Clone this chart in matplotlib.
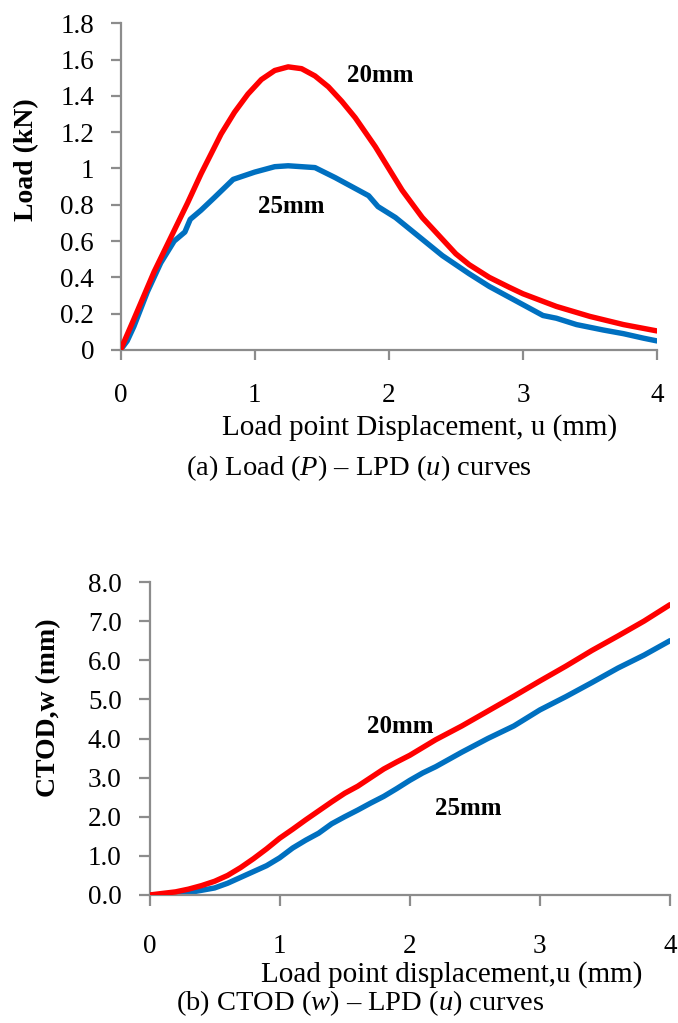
import matplotlib
matplotlib.use("Agg")
import matplotlib.pyplot as plt

# (a) Load - LPD curves
lpd_20_a = [0, 0.1, 0.25, 0.5, 0.6, 0.75, 0.85, 0.95, 1.05, 1.15, 1.25, 1.35, 1.45, 1.55,
            1.65, 1.75, 1.9, 2.0, 2.1, 2.25, 2.4, 2.5, 2.6, 2.75, 2.9, 3.0, 3.25, 3.5,
            3.75, 4.0]
load_20 = [0, 0.17, 0.43, 0.81, 0.97, 1.19, 1.31, 1.41, 1.49, 1.54, 1.56, 1.55, 1.51, 1.45,
           1.37, 1.28, 1.12, 1.0, 0.88, 0.73, 0.61, 0.53, 0.47, 0.40, 0.345, 0.31, 0.24,
           0.185, 0.14, 0.105]

lpd_25_a = [0, 0.05, 0.1, 0.2, 0.3, 0.4, 0.48, 0.52, 0.6, 0.7, 0.84, 1.0, 1.15, 1.25,
            1.45, 1.6, 1.75, 1.85, 1.92, 2.05, 2.25, 2.4, 2.5, 2.6, 2.75, 2.85, 3.0,
            3.15, 3.25, 3.4, 3.6, 3.75, 3.9, 4.0]
load_25 = [0, 0.05, 0.13, 0.32, 0.48, 0.6, 0.65, 0.72, 0.77, 0.84, 0.94, 0.98, 1.01, 1.015,
           1.005, 0.95, 0.89, 0.85, 0.79, 0.73, 0.61, 0.52, 0.47, 0.42, 0.35, 0.31, 0.25,
           0.19, 0.175, 0.14, 0.11, 0.09, 0.065, 0.05]

# (b) CTOD - LPD curves
lpd_20_b = [0, 0.1, 0.2, 0.3, 0.4, 0.5, 0.6, 0.7, 0.8, 0.9, 1.0, 1.1, 1.2, 1.3, 1.4, 1.5,
            1.6, 1.7, 1.8, 1.9, 2.0, 2.2, 2.4, 2.6, 2.8, 3.0, 3.2, 3.4, 3.6, 3.8, 4.0]
ctod_20 = [0, 0.04, 0.08, 0.15, 0.24, 0.35, 0.5, 0.7, 0.93, 1.18, 1.45, 1.68, 1.92, 2.15,
           2.38, 2.6, 2.78, 3.0, 3.22, 3.4, 3.57, 3.97, 4.32, 4.7, 5.08, 5.47, 5.85, 6.25,
           6.62, 7.0, 7.42]

lpd_25_b = [0, 0.1, 0.2, 0.3, 0.4, 0.5, 0.6, 0.7, 0.8, 0.9, 1.0, 1.1, 1.2, 1.3, 1.4, 1.5,
            1.6, 1.7, 1.8, 1.9, 2.0, 2.1, 2.2, 2.4, 2.6, 2.8, 3.0, 3.2, 3.4, 3.6, 3.8, 4.0]
ctod_25 = [0, 0.01, 0.03, 0.06, 0.12, 0.18, 0.3, 0.45, 0.6, 0.75, 0.95, 1.2, 1.4, 1.58,
           1.82, 2.0, 2.17, 2.35, 2.52, 2.72, 2.93, 3.12, 3.28, 3.65, 4.0, 4.32, 4.73, 5.07,
           5.43, 5.8, 6.13, 6.5]

x_ticks = [0, 1, 2, 3, 4]
load_ticks = [0, 0.2, 0.4, 0.6, 0.8, 1.0, 1.2, 1.4, 1.6, 1.8]
load_tick_labels = ["0", "0.2", "0.4", "0.6", "0.8", "1", "1.2", "1.4", "1.6", "1.8"]
ctod_ticks = [0, 1, 2, 3, 4, 5, 6, 7, 8]
ctod_tick_labels = ["0.0", "1.0", "2.0", "3.0", "4.0", "5.0", "6.0", "7.0", "8.0"]

RED = "#ff0000"
BLUE = "#0070c0"
SPINE = "#8c8c8c"

plt.rcParams["font.family"] = ["Liberation Serif", "DejaVu Serif"]
plt.rcParams["mathtext.fontset"] = "custom"
plt.rcParams["mathtext.it"] = "Liberation Serif:italic"
plt.rcParams["mathtext.rm"] = "Liberation Serif"

W, H = 678, 1023
fig = plt.figure(figsize=(W / 100, H / 100), dpi=100)


def px_axes(left, top, right, bottom):
    return fig.add_axes([left / W, 1 - bottom / H, (right - left) / W, (bottom - top) / H])


def style_axes(ax, xpad, ypad, ticklen):
    for side in ("top", "right"):
        ax.spines[side].set_visible(False)
    for side in ("left", "bottom"):
        ax.spines[side].set_color(SPINE)
        ax.spines[side].set_linewidth(1.6)
    ax.tick_params(axis="both", direction="out", length=ticklen, width=1.6,
                   color=SPINE, labelsize=19.5, labelcolor="black")
    ax.tick_params(axis="x", pad=xpad)
    ax.tick_params(axis="y", pad=ypad)


# ---- panel (a)
ax1 = px_axes(120.5, 23.3, 657, 350)
ax1.plot(lpd_20_a, load_20, color=RED, lw=3.9, solid_capstyle="round",
         solid_joinstyle="round", zorder=3)
ax1.plot(lpd_25_a, load_25, color=BLUE, lw=3.9, solid_capstyle="round",
         solid_joinstyle="round", zorder=2)
ax1.set_xlim(0, 4)
ax1.set_ylim(0, 1.8)
ax1.set_xticks(x_ticks)
ax1.set_yticks(load_ticks)
ax1.set_yticklabels(load_tick_labels)
style_axes(ax1, xpad=17, ypad=12, ticklen=7)
ax1.text(1.94, 1.515, "20mm", fontsize=18, fontweight="bold", ha="center", va="center")
ax1.text(1.27, 0.79, "25mm", fontsize=18, fontweight="bold", ha="center", va="center")

fig.text(27 / W, 1 - 160 / H, "Load (kN)", rotation=90, fontsize=20, fontweight="bold",
         ha="center", va="center")
fig.text(419.5 / W, 1 - 435 / H, "Load point Displacement, u (mm)", fontsize=21,
         ha="center", va="baseline")
fig.text(359 / W, 1 - 475 / H, "(a) Load ($P$) \u2013 LPD ($u$) curves", fontsize=20.5,
         ha="center", va="baseline")

# ---- panel (b)
ax2 = px_axes(149.5, 582, 670, 895)
ax2.plot(lpd_20_b, ctod_20, color=RED, lw=3.9, solid_capstyle="round",
         solid_joinstyle="round", zorder=3)
ax2.plot(lpd_25_b, ctod_25, color=BLUE, lw=3.9, solid_capstyle="round",
         solid_joinstyle="round", zorder=2)
ax2.set_xlim(0, 4)
ax2.set_ylim(0, 8)
ax2.set_xticks(x_ticks)
ax2.set_yticks(ctod_ticks)
ax2.set_yticklabels(ctod_tick_labels)
style_axes(ax2, xpad=20, ypad=12, ticklen=8)
ax2.text(1.93, 4.3, "20mm", fontsize=18, fontweight="bold", ha="center", va="center")
ax2.text(2.45, 2.22, "25mm", fontsize=18, fontweight="bold", ha="center", va="center")

fig.text(49 / W, 1 - 708 / H, "CTOD,w (mm)", rotation=90, fontsize=20, fontweight="bold",
         ha="center", va="center")
fig.text(452 / W, 1 - 982 / H, "Load point displacement,u (mm)", fontsize=21,
         ha="center", va="baseline")
fig.text(360 / W, 1 - 1010 / H, "(b) CTOD ($w$) \u2013 LPD ($u$) curves", fontsize=20.5,
         ha="center", va="baseline")

fig.savefig("out.png", dpi=100)
